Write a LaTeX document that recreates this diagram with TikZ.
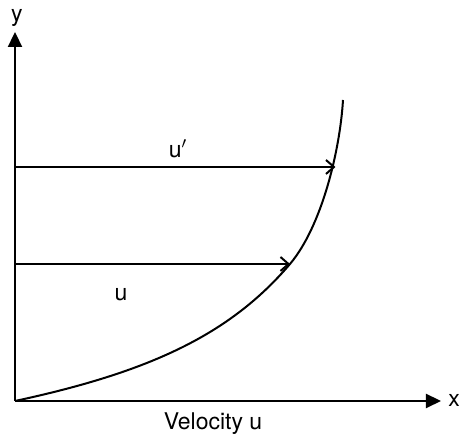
\documentclass[tikz,border=0pt]{standalone}
\usepackage{fontspec}
\setmainfont{TeX Gyre Heros}
\usetikzlibrary{arrows.meta, positioning}

\tikzset{
    axisline/.style={line width=1.1pt, -{Triangle[length=7.5pt,width=7pt]}},
    velline/.style={line width=0.8pt, -{Straight Barb[length=4pt,width=7pt,line width=1pt]}},
    lbl/.style={font=\fontsize{11.5}{14}\selectfont, inner sep=0pt}
}

\begin{document}
\begin{tikzpicture}[x=0.5pt, y=-0.5pt]
    \useasboundingbox (0,0) rectangle (462,437);

    % axes
    \coordinate (o) at (15,401);
    \coordinate (ytip) at (15,32);
    \coordinate (xtip) at (441,401);
    \draw[axisline] (o) -- (ytip);
    \draw[axisline] (o) -- (xtip);
    \node[lbl] (ylbl) at (17,18) {y};
    \node[lbl] (xlbl) at (454,400) {x};
    \node[lbl] (vlbl) at (213,424) {Velocity u};

    % velocity profile
    \coordinate (top) at (343,100);
    \coordinate (pu) at (290,264);
    \coordinate (pup) at (335.5,167);
    \draw[line width=1pt] (o) .. controls (150,372) and (230,334.5) .. (pu)
        .. controls (322,226) and (340,150) .. (top);

    % velocity arrows
    \coordinate (au) at (15,264);
    \coordinate (aup) at (15,167);
    \draw[velline] (au) -- (pu);
    \draw[velline] (aup) -- (pup);
    \node[lbl] (ulbl) at (121,295) {u};
    \node[lbl] (uplbl) at (178,149) {u$'$};
\end{tikzpicture}
\end{document}
